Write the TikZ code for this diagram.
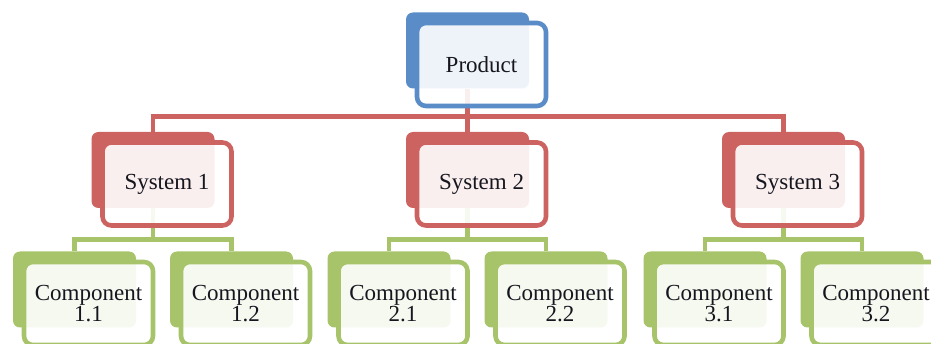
\documentclass[tikz,border=0pt]{standalone}
\usepackage{fontspec}
\setmainfont{Liberation Serif}
\definecolor{prodblue}{HTML}{5A8DC8}
\definecolor{sysred}{HTML}{CD6360}
\definecolor{compgreen}{HTML}{A7C46B}
\definecolor{labelink}{HTML}{16161F}
\tikzset{
  backbox/.style={rectangle, rounded corners=7pt, minimum width=123pt,
    minimum height=76pt, inner sep=0pt, fill=#1, draw=none},
  frontbox/.style={rectangle, rounded corners=9pt, minimum width=129pt,
    minimum height=83pt, inner sep=0pt, draw=#1, line width=4.6pt,
    fill=white, fill opacity=0.9, text opacity=1, draw opacity=1,
    align=center, text=labelink, font=\fontsize{23}{21}\selectfont},
  link/.style={line width=4.5pt, draw=#1},
}
\begin{document}
\begin{tikzpicture}[x=1pt, y=-1pt]
  \fill[white] (0,0) rectangle (931,344);
  \clip (0,0) rectangle (931,344);

  % rear panels
  \node[backbox=prodblue] (prodB) at (467.5,50.5) {};
  \node[backbox=sysred] (s1B) at (153,170) {};
  \node[backbox=sysred] (s2B) at (467.5,170) {};
  \node[backbox=sysred] (s3B) at (783.5,170) {};
  \node[backbox=compgreen] (c11B) at (74.5,289.5) {};
  \node[backbox=compgreen] (c12B) at (231.5,289.5) {};
  \node[backbox=compgreen] (c21B) at (389,289.5) {};
  \node[backbox=compgreen] (c22B) at (546,289.5) {};
  \node[backbox=compgreen] (c31B) at (705,289.5) {};
  \node[backbox=compgreen] (c32B) at (862,289.5) {};

  % bus levels
  \coordinate (busR) at (0,116.5);
  \coordinate (busG) at (0,239.5);

  % product to systems
  \foreach \s in {s1B,s2B,s3B}
    \draw[link=sysred] (prodB.south) |- (\s.north |- busR) -- (\s.north);

  % systems to components
  \draw[link=compgreen] (s1B.south) |- (c11B.north |- busG) -- (c11B.north);
  \draw[link=compgreen] (s1B.south) |- (c12B.north |- busG) -- (c12B.north);
  \draw[link=compgreen] (s2B.south) |- (c21B.north |- busG) -- (c21B.north);
  \draw[link=compgreen] (s2B.south) |- (c22B.north |- busG) -- (c22B.north);
  \draw[link=compgreen] (s3B.south) |- (c31B.north |- busG) -- (c31B.north);
  \draw[link=compgreen] (s3B.south) |- (c32B.north |- busG) -- (c32B.north);

  % front panels with labels
  \node[frontbox=prodblue] (prod) at ([shift={(14,14)}]prodB.center) {Product};
  \node[frontbox=sysred] (s1) at ([shift={(14,14)}]s1B.center) {System 1};
  \node[frontbox=sysred] (s2) at ([shift={(14,14)}]s2B.center) {System 2};
  \node[frontbox=sysred] (s3) at ([shift={(14,14)}]s3B.center) {System 3};
  \node[frontbox=compgreen] (c11) at ([shift={(14,14)}]c11B.center) {Component\\1.1};
  \node[frontbox=compgreen] (c12) at ([shift={(14,14)}]c12B.center) {Component\\1.2};
  \node[frontbox=compgreen] (c21) at ([shift={(14,14)}]c21B.center) {Component\\2.1};
  \node[frontbox=compgreen] (c22) at ([shift={(14,14)}]c22B.center) {Component\\2.2};
  \node[frontbox=compgreen] (c31) at ([shift={(14,14)}]c31B.center) {Component\\3.1};
  \node[frontbox=compgreen] (c32) at ([shift={(14,14)}]c32B.center) {Component\\3.2};
\end{tikzpicture}
\end{document}
